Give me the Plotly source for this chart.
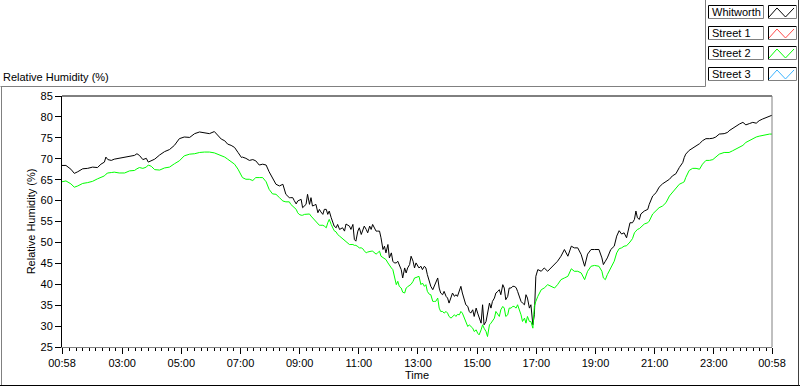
import plotly.graph_objects as go

# ---------------- data ----------------
start_time_min = 58  # series starts at 00:58

# elapsed minutes since 00:58 for each reading
elapsed_min = [
    0, 8, 18, 25, 32, 42, 52, 62, 72, 79, 86, 89, 93, 100, 106, 116, 127, 137, 147, 152,
    157, 164, 171, 175, 181, 188, 198, 208, 218, 228, 238, 248, 259, 269, 279, 289, 299, 309, 316, 323,
    330, 336, 343, 350, 357, 364,
    366, 373, 380, 387, 393, 400, 407, 414, 420, 427, 434, 441, 448,
    454, 458, 461, 464, 468, 471, 475, 478, 481, 485,
    488, 492, 495, 498, 502, 505, 508, 512, 515, 519,
    522, 525, 529, 532, 536, 539, 542, 546, 549, 552,
    556, 559, 563, 566, 569, 573, 576, 580, 583, 586,
    590, 593, 596, 600, 603, 607, 610, 613, 617, 620,
    624, 627, 630, 634, 637, 640, 644, 647, 651, 654,
    657, 661, 664, 668, 671, 674, 678, 681, 684, 688,
    691, 695, 698, 701, 705, 708, 712, 715, 718,
    724, 728, 731, 735, 738, 741, 745, 748, 752, 755,
    758, 762, 765, 768, 772, 775, 779, 782, 785, 789,
    792, 796, 799, 802, 806, 809, 812, 816, 819, 823,
    826, 829, 833, 836, 840, 843, 846, 850, 853, 856,
    860, 863, 867, 870, 873, 877, 880, 884, 887, 890,
    894, 897, 900, 904, 907, 911, 914, 917, 921, 924,
    928, 931, 934, 938, 941, 944, 948, 951, 955, 958,
    961, 965,
    972, 978, 985, 992, 999, 1005, 1012, 1019, 1026, 1033, 1039, 1046, 1053, 1060, 1066, 1073, 1080,
    1089, 1095, 1098, 1102, 1106, 1113, 1120, 1125, 1130, 1135,
    1140, 1145, 1148, 1152, 1157, 1161, 1164, 1167, 1171, 1174,
    1181, 1188, 1191, 1198, 1205, 1211, 1218, 1225, 1232, 1238,
    1245, 1252, 1259, 1262, 1265, 1272, 1279, 1286, 1293, 1299,
    1306, 1313, 1320, 1326, 1333, 1343, 1350, 1353, 1360, 1367,
    1374, 1381, 1387, 1394, 1401, 1408, 1414, 1421, 1428, 1435,
    1440,
]

whitworth = [
    68.4, 68.4, 67.5, 66.5, 66.9, 67.6, 67.7, 68.0, 67.9, 68.7,
    69.2, 70.4, 69.8, 69.6, 69.9, 70.1, 70.3, 70.5, 70.8, 71.2,
    70.8, 69.8, 70.1, 69.2, 69.6, 69.9, 70.9, 71.7, 72.2, 73.2,
    74.8, 75.2, 75.1, 76.0, 76.4, 76.2, 76.0, 76.5, 75.5, 74.7,
    74.3, 73.5, 73.2, 72.7, 71.5, 70.3,
    70.4, 70.1, 69.6, 69.8, 69.5, 68.5, 68.7, 68.5, 66.9, 65.5, 63.9, 63.5, 63.9,
    61.5, 60.9, 60.7, 60.7, 60.7, 60.0, 59.2, 59.9, 60.1, 60.3,
    58.3, 58.7, 59.1, 61.5, 59.1, 60.7, 58.7, 58.9, 59.1, 57.1,
    57.9, 57.3, 56.7, 57.9, 57.9, 56.7, 57.5, 55.9, 55.1, 53.9,
    53.5, 54.3, 53.1, 53.3, 53.5, 52.7, 54.4, 54.1, 53.9, 53.1,
    54.3, 50.7, 50.3, 52.7, 53.5, 51.9, 52.7, 53.9, 53.1, 52.3,
    53.9, 53.1, 54.3, 53.5, 52.7, 52.7, 52.7, 51.1, 48.3, 49.1,
    47.5, 49.5, 46.3, 47.5, 45.5, 45.1, 45.1, 45.5, 44.7, 43.5,
    41.5, 43.9, 42.7, 43.9, 44.7, 46.7, 45.5, 43.9, 45.1,
    43.9, 44.3, 43.5, 44.3, 43.9, 42.3, 40.7, 39.5, 38.7, 39.5,
    40.3, 41.5, 39.1, 37.9, 37.5, 38.3, 37.1, 36.7, 35.5, 37.1,
    37.9, 37.1, 37.5, 37.1, 38.3, 39.5, 37.9, 36.3, 35.1, 34.7,
    33.5, 33.1, 33.9, 32.3, 34.3, 33.1, 31.9, 30.7, 35.1, 30.3,
    31.1, 33.5, 35.5, 34.3, 35.9, 36.7, 37.9, 38.3, 38.7, 37.5,
    39.9, 39.1, 36.3, 37.1, 39.1, 39.1, 39.5, 39.5, 39.2, 38.3,
    37.1, 35.9, 35.5, 35.1, 37.5, 36.7, 34.3, 35.1, 30.3, 32.7,
    41.9, 43.5,
    43.1, 43.9, 43.1, 43.9, 44.7, 45.5, 46.7, 48.3, 46.7, 49.1, 48.7, 48.7, 47.1, 44.3, 47.2, 48.3, 48.3,
    48.3, 46.3, 44.7, 45.5, 46.3, 48.3, 49.1, 51.5, 52.8, 52.0,
    52.3, 51.1, 52.8, 54.7, 54.7, 55.5, 57.5, 55.9, 55.5, 56.8,
    57.5, 57.9, 59.1, 61.1, 61.9, 63.2, 64.0, 64.5, 65.1, 65.9,
    66.4, 67.9, 69.1, 70.3, 71.1, 72.0, 72.5, 73.1, 73.6, 74.3,
    74.8, 74.8, 74.9, 75.2, 75.9, 76.0, 76.3, 76.7, 77.3, 77.9,
    78.3, 78.7, 78.1, 78.4, 78.7, 78.5, 79.1, 79.5, 79.9, 80.3,
    80.4,
]

street2 = [
    64.5, 64.7, 64.0, 63.2, 63.5, 64.1, 64.3, 64.6, 65.2, 65.5,
    65.9, 66.3, 66.6, 66.7, 66.8, 66.6, 66.6, 67.1, 67.2, 67.6,
    67.9, 67.7, 68.0, 68.5, 68.2, 67.4, 67.3, 67.8, 68.0, 68.8,
    69.5, 70.7, 71.1, 71.2, 71.5, 71.6, 71.6, 71.4, 71.1, 70.7,
    70.4, 69.9, 69.3, 68.7, 67.5, 66.1,
    65.5, 65.1, 65.1, 64.8, 65.5, 65.5, 65.5, 64.5, 62.7, 61.6, 61.5, 60.7, 59.9,
    59.7, 59.7, 59.7, 59.1, 58.7, 58.3, 57.9, 57.1, 56.7, 56.5,
    56.5, 56.7, 56.7, 56.8, 56.8, 56.3, 55.9, 55.5, 55.1, 54.4,
    54.1, 54.1, 54.1, 53.9, 53.5, 54.7, 55.5, 54.3, 53.5, 52.8,
    52.5, 51.9, 51.5, 51.2, 51.1, 50.7, 50.3, 49.9, 49.5, 49.5,
    49.5, 49.3, 49.3, 49.0, 48.7, 48.7, 48.5, 48.0, 47.5, 47.7,
    47.9, 47.9, 47.9, 47.5, 47.2, 47.5, 47.9, 46.7, 46.3, 46.1,
    45.9, 45.1, 44.5, 43.9, 43.5, 41.9, 39.9, 40.7, 39.5, 39.1,
    38.1, 37.9, 39.1, 39.4, 39.7, 40.0, 40.7, 41.5, 41.6,
    41.9, 39.9, 40.3, 39.5, 39.9, 38.3, 37.6, 37.5, 35.9, 35.9,
    35.9, 36.7, 34.3, 33.5, 33.5, 33.1, 33.5, 33.1, 32.3, 31.9,
    32.3, 32.7, 32.3, 32.8, 32.7, 33.5, 33.1, 31.9, 31.1, 29.9,
    30.3, 29.9, 29.5, 28.7, 29.1, 28.3, 27.9, 29.1, 30.3, 29.5,
    28.7, 27.5, 30.3, 30.7, 31.1, 31.9, 33.5, 32.7, 32.3, 33.9,
    34.7, 34.3, 32.3, 32.7, 34.3, 34.3, 34.7, 34.7, 34.3, 35.1,
    33.9, 32.7, 31.1, 31.9, 30.7, 32.3, 31.1, 31.1, 29.5, 34.7,
    35.9, 37.1,
    38.7, 39.1, 39.9, 39.5, 39.1, 39.9, 41.1, 41.5, 41.9, 43.7, 43.1, 43.1, 42.7, 41.1, 43.1, 44.3, 44.5,
    44.3, 43.1, 41.5, 41.1, 42.3, 43.9, 45.5, 47.5, 48.5, 48.7,
    49.1, 49.2, 49.5, 50.1, 50.9, 52.3, 52.7, 53.1, 53.3, 53.6,
    54.4, 54.7, 55.1, 56.8, 57.5, 58.3, 58.7, 59.5, 61.1, 61.9,
    62.7, 63.9, 64.3, 64.5, 65.5, 67.2, 67.7, 67.7, 67.5, 68.7,
    69.6, 69.6, 69.8, 70.4, 71.1, 71.5, 71.5, 71.5, 71.9, 72.3,
    72.7, 73.2, 73.9, 74.4, 74.9, 75.2, 75.4, 75.6, 75.8, 75.9,
    75.9,
]

street1 = []   # no readings shown
street3 = []   # no readings shown

series_names = ["Whitworth", "Street 1", "Street 2", "Street 3"]
series_colors = ["#000000", "#ff4a4a", "#00ff00", "#3db4ff"]

x_tick_hours = [58 / 60, 3, 5, 7, 9, 11, 13, 15, 17, 19, 21, 23, 24 + 58 / 60]
x_tick_text = ["00:58", "03:00", "05:00", "07:00", "09:00", "11:00", "13:00",
               "15:00", "17:00", "19:00", "21:00", "23:00", "00:58"]
y_tick_vals = [25, 30, 35, 40, 45, 50, 55, 60, 65, 70, 75, 80, 85]

chart_title = "Relative Humidity (%)"
x_title = "Time"
y_title = "Relative Humidity (%)"

# ---------------- figure ----------------
FONT = "Liberation Sans"
W, H = 800, 386
ML, MR, MT, MB = 62, 28, 96, 39
PW, PH = W - ML - MR, H - MT - MB


def fx(px):
    return (px - ML) / PW


def fy(py):
    return (H - MB - py) / PH


def to_hours(m):
    return (start_time_min + m) / 60.0


x_hours = [to_hours(m) for m in elapsed_min]
all_y = [whitworth, street1, street2, street3]

fig = go.Figure()
for name, col, ys in zip(series_names, series_colors, all_y):
    xs = x_hours[:len(ys)]
    fig.add_trace(go.Scatter(x=xs, y=ys, mode="lines", name=name,
                             line=dict(color=col, width=1), showlegend=False))

shapes = []
ann = []


def hline(x0, x1, y, color):
    shapes.append(dict(type="line", xref="paper", yref="paper", x0=fx(x0), x1=fx(x1),
                       y0=fy(y), y1=fy(y), line=dict(color=color, width=1), layer="above"))


def vline(x, y0, y1, color):
    shapes.append(dict(type="line", xref="paper", yref="paper", x0=fx(x), x1=fx(x),
                       y0=fy(y0), y1=fy(y1), line=dict(color=color, width=1), layer="above"))


# plot area border (top black, right grey)
hline(62, 772, 96, "#000000")
vline(772, 96, 347, "#808080")

# outer panel frame
hline(0.5, 705.5, 86.5, "#808080")
vline(705.5, 0, 86.5, "#808080")
vline(1.5, 86.5, 385, "#808080")
hline(0, 800, 385.5, "#000000")
vline(798.5, 0, 385.5, "#404040")

# custom legend
row_tops = [5, 26, 46, 67]
for name, col, top in zip(series_names, series_colors, row_tops):
    bot = top + 13
    for (xa, xb) in [(708.5, 763.5), (768.5, 796.5)]:
        hline(xa, xb, top + 0.5, "#000000")
        vline(xa, top + 0.5, bot + 0.5, "#000000")
        hline(xa, xb, bot + 0.5, "#808080")
        vline(xb, top + 0.5, bot + 0.5, "#808080")
    pts = [(769, top + 12), (777, top + 3), (785.5, top + 12), (794, top + 3)]
    path = "M " + " L ".join(f"{fx(a):.5f},{fy(b):.5f}" for a, b in pts)
    shapes.append(dict(type="path", xref="paper", yref="paper", path=path,
                       line=dict(color=col, width=1), layer="above"))
    ann.append(dict(text=name, xref="paper", yref="paper", x=fx(710), y=fy(top + 7),
                    xanchor="left", yanchor="middle", showarrow=False,
                    font=dict(family=FONT, size=11, color="#000000")))

ann.append(dict(text=chart_title, xref="paper", yref="paper", x=fx(1), y=fy(77),
                xanchor="left", yanchor="middle", showarrow=False,
                font=dict(family=FONT, size=11, color="#000000")))

fig.update_layout(
    width=W, height=H,
    margin=dict(l=ML, r=MR, t=MT, b=MB, pad=0),
    paper_bgcolor="#ffffff", plot_bgcolor="#ffffff",
    font=dict(family=FONT, size=11, color="#000000"),
    showlegend=False,
    shapes=shapes, annotations=ann,
    xaxis=dict(
        range=[x_tick_hours[0], x_tick_hours[-1]],
        tickmode="array", tickvals=x_tick_hours, ticktext=x_tick_text,
        ticks="outside", ticklen=6, tickwidth=1, tickcolor="#000000",
        showgrid=False, zeroline=False, showline=True, linecolor="#808080", linewidth=1,
        tickfont=dict(family=FONT, size=11, color="#000000"),
        title=dict(text=x_title, font=dict(family=FONT, size=11), standoff=3),
        minor=dict(ticks="outside", ticklen=3, tickcolor="#000000", tickwidth=1,
                   tick0=1, dtick=2 / 9, showgrid=False),
        automargin=False,
    ),
    yaxis=dict(
        range=[25, 85], tickmode="array", tickvals=y_tick_vals,
        ticks="outside", ticklen=6, tickwidth=1, tickcolor="#000000",
        showgrid=False, zeroline=False, showline=True, linecolor="#000000", linewidth=1,
        tickfont=dict(family=FONT, size=11, color="#000000"),
        title=dict(text=y_title, font=dict(family=FONT, size=11), standoff=2),
        automargin=False,
    ),
)

fig.write_html(
    "out.html",
    config={"displayModeBar": False},
    post_script="document.body.style.margin='0';document.body.style.padding='0';"
                "document.documentElement.style.overflow='hidden';",
)
